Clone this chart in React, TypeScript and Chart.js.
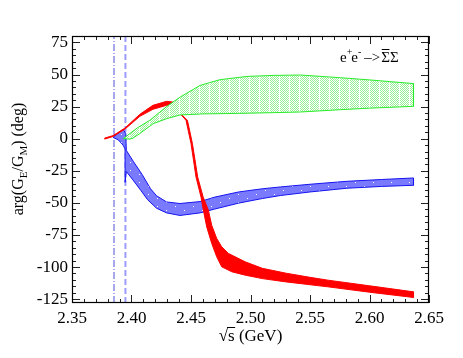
import React, { useEffect, useRef } from 'react';
import { Chart, registerables } from 'chart.js';

Chart.register(...registerables);

const FONT = '"Liberation Serif", "DejaVu Serif", "Times New Roman", serif';

// Axis ranges and ticks
const xRange = [2.35, 2.65];
const yRange = [-128, 80];
const xTickValues = [2.35, 2.4, 2.45, 2.5, 2.55, 2.6, 2.65];
const xTickLabels = ['2.35', '2.40', '2.45', '2.50', '2.55', '2.60', '2.65'];
const yTickValues = [-125, -100, -75, -50, -25, 0, 25, 50, 75];
const yTickLabels = ['-125', '-100', '-75', '-50', '-25', '0', '25', '50', '75'];
const xMinorStep = 0.01;
const yMinorStep = 5;

// Thresholds (vertical lines)
const thresholds = [2.3853, 2.3949];

// Red band (edges)
const redTopX = [2.3775, 2.3845, 2.3944, 2.407, 2.418, 2.4295, 2.435, 2.439, 2.4425, 2.447, 2.4512, 2.4556, 2.4602, 2.4646, 2.4674, 2.4716, 2.4758, 2.4815, 2.4955, 2.51, 2.53, 2.55, 2.565, 2.6, 2.637];
const redTopY = [0.5, 2.4, 8.2, 19.0, 26.0, 29.1, 28.5, 25.0, 18.5, 14.3, -3.8, -29.8, -45.4, -55.7, -67.4, -77.7, -84.2, -89.4, -95.9, -101.0, -104.8, -108.0, -110.2, -114.6, -119.3];
const redBottomX = [2.3775, 2.3845, 2.3944, 2.407, 2.418, 2.4295, 2.437, 2.4418, 2.4458, 2.45, 2.4542, 2.4584, 2.4604, 2.4632, 2.4674, 2.4716, 2.4758, 2.4843, 2.4955, 2.51, 2.53, 2.565, 2.6, 2.637];
const redBottomY = [-0.3, 1.7, 7.4, 17.4, 22.9, 26.0, 22.5, 18.5, 14.3, -3.8, -29.8, -45.4, -55.7, -68.7, -81.6, -92.0, -99.8, -103.7, -106.3, -109.0, -111.6, -115.4, -119.6, -123.7];

// Green band
const greenUpperX = [2.393, 2.3987, 2.405, 2.4154, 2.4295, 2.441, 2.4576, 2.4745, 2.497, 2.519, 2.542, 2.5756, 2.6, 2.637];
const greenUpperY = [0, 4.0, 8.5, 14.3, 25.0, 32.5, 41.5, 46.0, 48.5, 49.3, 49.6, 47.5, 45.8, 42.9];
const greenLowerX = [2.393, 2.3987, 2.4014, 2.407, 2.4182, 2.4295, 2.4409, 2.46, 2.49, 2.52, 2.542, 2.5756, 2.6, 2.637];
const greenLowerY = [0, -0.3, 0.5, 4.0, 11.7, 15.6, 18.5, 19.3, 19.7, 20.3, 20.8, 22.6, 23.8, 25.2];

// Blue band
const blueUpperX = [2.3845, 2.3885, 2.3929, 2.3952, 2.3956, 2.4014, 2.409, 2.416, 2.4211, 2.4295, 2.4407, 2.4576, 2.47, 2.49, 2.51, 2.525, 2.55, 2.581, 2.61, 2.637];
const blueUpperY = [1, 4, 7.5, 4, -9, -17.5, -28, -39, -44.5, -49.3, -50.5, -49, -45.5, -41.5, -39, -37.6, -35.5, -33.2, -31.8, -30.6];
const blueLowerX = [2.3845, 2.389, 2.3929, 2.3946, 2.3947, 2.3956, 2.4007, 2.408, 2.4135, 2.4211, 2.4295, 2.4407, 2.4576, 2.47, 2.49, 2.51, 2.525, 2.55, 2.581, 2.61, 2.637];
const blueLowerY = [1, -1, -5, -8, -34, -25.5, -31.5, -40.5, -47.5, -54.2, -57.8, -59.8, -57.8, -54.8, -50.2, -46.6, -44.3, -41.5, -38.6, -37.2, -36.3];

function polygon(topX: number[], topY: number[], botX: number[], botY: number[]) {
  const pts = topX.map((x, i) => ({ x, y: topY[i] }));
  for (let i = botX.length - 1; i >= 0; i--) pts.push({ x: botX[i], y: botY[i] });
  pts.push({ x: topX[0], y: topY[0] });
  return pts;
}

function makePattern(w: number, h: number, draw: (g: CanvasRenderingContext2D) => void) {
  const c = document.createElement('canvas');
  c.width = w;
  c.height = h;
  const g = c.getContext('2d')!;
  draw(g);
  return g.createPattern(c, 'repeat')!;
}

const decorPlugin = {
  id: 'decor',
  afterDraw(chart: any) {
    const { ctx, chartArea: a, scales } = chart;
    const xs = scales.x;
    const ys = scales.y;
    ctx.save();
    // ticks (inward, all four sides)
    ctx.strokeStyle = '#222';
    ctx.lineWidth = 1;
    ctx.beginPath();
    const nX = Math.round((xRange[1] - xRange[0]) / xMinorStep);
    for (let i = 0; i <= nX; i++) {
      const v = xRange[0] + i * xMinorStep;
      const major = i % 5 === 0;
      const len = major ? 8 : 4;
      const px = Math.round(xs.getPixelForValue(v)) + 0.5;
      ctx.moveTo(px, a.bottom);
      ctx.lineTo(px, a.bottom - len);
      ctx.moveTo(px, a.top);
      ctx.lineTo(px, a.top + len);
    }
    for (let v = -125; v <= yRange[1]; v += yMinorStep) {
      const major = v % 25 === 0;
      const len = major ? 8 : 4;
      const py = Math.round(ys.getPixelForValue(v)) + 0.5;
      ctx.moveTo(a.left, py);
      ctx.lineTo(a.left + len, py);
      ctx.moveTo(a.right, py);
      ctx.lineTo(a.right - len, py);
    }
    ctx.stroke();
    // frame
    ctx.strokeStyle = '#000';
    ctx.lineWidth = 1.2;
    ctx.strokeRect(a.left + 0.5, a.top + 0.5, a.right - a.left - 1, a.bottom - a.top - 1);

    ctx.fillStyle = '#000';
    // Y axis title with subscripts
    const fs = 16;
    const sub = 11;
    const pieces: [string, boolean][] = [['arg(G', false], ['E', true], ['/G', false], ['M', true], [') (deg)', false]];
    let total = 0;
    const widths = pieces.map(([t, s]) => {
      ctx.font = `${s ? sub : fs}px ${FONT}`;
      const w = ctx.measureText(t).width;
      total += w;
      return w;
    });
    ctx.save();
    ctx.translate(23, 159);
    ctx.rotate(-Math.PI / 2);
    ctx.textBaseline = 'alphabetic';
    ctx.textAlign = 'left';
    let cx = -total / 2;
    pieces.forEach(([t, s], i) => {
      ctx.font = `${s ? sub : fs}px ${FONT}`;
      ctx.fillText(t, cx, s ? 4 : 0);
      cx += widths[i];
    });
    ctx.restore();

    // X axis title: sqrt(s) (GeV)
    const xf = 17;
    ctx.font = `${xf}px ${FONT}`;
    const wRad = ctx.measureText('\u221A').width;
    const wS = ctx.measureText('s').width;
    const wRest = ctx.measureText(' (GeV)').width;
    const tw = wRad + wS + wRest;
    const xc = (a.left + a.right) / 2;
    const base = 341;
    let tx = xc - tw / 2;
    ctx.textAlign = 'left';
    ctx.textBaseline = 'alphabetic';
    ctx.fillText('\u221A', tx, base);
    tx += wRad;
    ctx.fillText('s', tx, base);
    ctx.beginPath();
    ctx.lineWidth = 1;
    ctx.moveTo(tx - 1, base - 13.5);
    ctx.lineTo(tx + wS + 0.5, base - 13.5);
    ctx.stroke();
    tx += wS;
    ctx.fillText(' (GeV)', tx, base);

    // Annotation: e+e- -> SigmaBar Sigma
    const af = 15;
    const asup = 10;
    let ax = 340;
    const ab = 62;
    ctx.font = `${af}px ${FONT}`;
    ctx.fillText('e', ax, ab);
    ax += ctx.measureText('e').width;
    ctx.font = `${asup}px ${FONT}`;
    ctx.fillText('+', ax, ab - 7);
    ax += ctx.measureText('+').width - 1;
    ctx.font = `${af}px ${FONT}`;
    ctx.fillText('e', ax, ab);
    ax += ctx.measureText('e').width;
    ctx.font = `${asup}px ${FONT}`;
    ctx.fillText('-', ax, ab - 7);
    ax += ctx.measureText('-').width + 3;
    ctx.font = `${af}px ${FONT}`;
    ctx.fillText('\u2013>', ax, ab);
    ax += ctx.measureText('\u2013>').width + 1;
    const wSig = ctx.measureText('\u03A3').width;
    ctx.fillText('\u03A3\u03A3', ax, ab);
    ctx.beginPath();
    ctx.moveTo(ax + 0.5, ab - 12.5);
    ctx.lineTo(ax + wSig - 0.5, ab - 12.5);
    ctx.stroke();
    ctx.restore();
  },
};

export default function App() {
  const ref = useRef<HTMLCanvasElement | null>(null);
  useEffect(() => {
    const canvas = ref.current;
    if (!canvas) return;
    const greenPattern = makePattern(10, 2, (g) => {
      g.fillStyle = '#ffffff';
      g.fillRect(0, 0, 10, 2);
      g.fillStyle = 'rgb(150,238,150)';
      for (let x = 0; x < 9; x++) for (let y = 0; y < 2; y++) if ((x + y) % 2 === 0) g.fillRect(x, y, 1, 1);
    });
    const bluePattern = makePattern(18, 8, (g) => {
      g.fillStyle = 'rgb(122,122,255)';
      g.fillRect(0, 0, 18, 8);
      g.fillStyle = '#ffffff';
      g.fillRect(4, 2, 1, 1);
      g.fillRect(13, 6, 1, 1);
    });

    const chart = new Chart(canvas, {
      type: 'scatter',
      data: {
        datasets: [
          {
            label: 'green',
            data: polygon(greenUpperX, greenUpperY, greenLowerX, greenLowerY),
            showLine: true,
            borderColor: 'rgb(40,235,40)',
            borderWidth: 1,
            backgroundColor: greenPattern as any,
            fill: 'shape',
            pointRadius: 0,
            order: 0,
          },
          {
            label: 'red',
            data: polygon(redTopX, redTopY, redBottomX, redBottomY),
            showLine: true,
            borderColor: '#ff0000',
            borderWidth: 1,
            backgroundColor: '#ff0000',
            fill: 'shape',
            pointRadius: 0,
            order: 1,
          },
          {
            label: 'blue',
            data: polygon(blueUpperX, blueUpperY, blueLowerX, blueLowerY),
            showLine: true,
            borderColor: 'rgb(20,20,240)',
            borderWidth: 1,
            backgroundColor: bluePattern as any,
            fill: 'shape',
            pointRadius: 0,
            order: 2,
          },
          {
            label: 'thr1',
            data: [{ x: thresholds[0], y: yRange[0] }, { x: thresholds[0], y: yRange[1] }],
            showLine: true,
            borderColor: 'rgb(80,80,220)',
            borderWidth: 1,
            borderDash: [7, 2, 1, 2],
            pointRadius: 0,
            fill: false,
            order: 3,
          },
          {
            label: 'thr2',
            data: [{ x: thresholds[1], y: yRange[0] }, { x: thresholds[1], y: yRange[1] }],
            showLine: true,
            borderColor: 'rgba(140,140,255,0.85)',
            borderWidth: 2,
            borderDash: [6, 3],
            pointRadius: 0,
            fill: false,
            order: 3,
          },
        ],
      },
      options: {
        responsive: false,
        animation: false,
        events: [],
        layout: { padding: { left: 0, top: 36, right: 34, bottom: 0 } },
        plugins: {
          legend: { display: false },
          tooltip: { enabled: false },
          title: { display: false },
        },
        scales: {
          x: {
            type: 'linear',
            min: xRange[0],
            max: xRange[1],
            grid: { display: false, drawTicks: false },
            border: { display: false },
            afterBuildTicks: (s: any) => {
              s.ticks = xTickValues.map((v) => ({ value: v }));
            },
            afterFit: (s: any) => {
              s.height = 55;
            },
            ticks: {
              autoSkip: false,
              maxRotation: 0,
              padding: 5,
              color: '#000',
              font: { family: FONT, size: 17 },
              callback: (_v: any, i: number) => xTickLabels[i],
            },
          },
          y: {
            type: 'linear',
            min: yRange[0],
            max: yRange[1],
            grid: { display: false, drawTicks: false },
            border: { display: false },
            afterBuildTicks: (s: any) => {
              s.ticks = yTickValues.map((v) => ({ value: v }));
            },
            afterFit: (s: any) => {
              s.width = 72;
            },
            ticks: {
              autoSkip: false,
              padding: 4,
              color: '#000',
              font: { family: FONT, size: 17 },
              callback: (_v: any, i: number) => yTickLabels[i],
            },
          },
        },
      },
      plugins: [decorPlugin],
    } as any);
    return () => chart.destroy();
  }, []);

  return (
    <div style={{ position: 'fixed', left: 0, top: 0, width: 463, height: 358, background: '#fff' }}>
      <canvas ref={ref} width={463} height={358} style={{ display: 'block', width: 463, height: 358 }} />
    </div>
  );
}
